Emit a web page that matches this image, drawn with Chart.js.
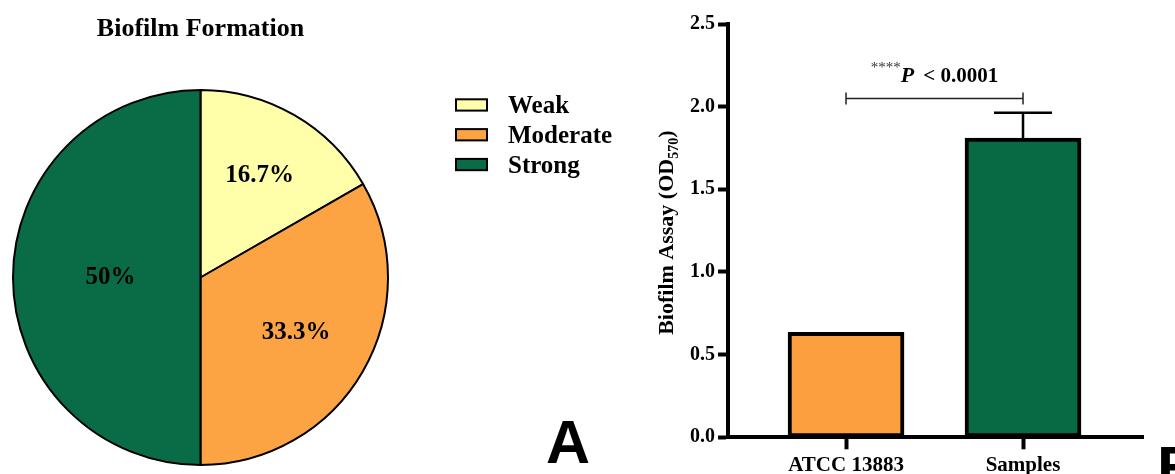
<!DOCTYPE html>
<html>
<head>
<meta charset="utf-8">
<script src="https://cdn.jsdelivr.net/npm/chart.js@4.4.1/dist/chart.umd.min.js"></script>
<style>
    html, body { margin: 0; padding: 0; background: #fff; }
    .wrap { position: relative; width: 1175px; height: 474px; overflow: hidden; }
    #pieChart { position: absolute; left: 0; top: 0; }
    #barChart { position: absolute; left: 640px; top: 0; }
</style>
</head>
<body>
<div class="wrap">
    <canvas id="pieChart" width="640" height="474"></canvas>
    <canvas id="barChart" width="535" height="474"></canvas>
</div>
<script>
// Panel A - pie
const pieTitle = 'Biofilm Formation';
const pieLabels = ['Weak', 'Moderate', 'Strong'];
const pieValues = [16.7, 33.3, 50];
const pieColors = ['#FFFFAA', '#FCA444', '#0A6C47'];

// Panel B - bars
const barCategories = ['ATCC 13883', 'Samples'];
const barValues = [0.635, 1.81];
const barErrors = [0, 0.153];
const barColors = ['#FCA03F', '#076A45'];
const yTicks = [0, 0.5, 1.0, 1.5, 2.0, 2.5];
const yTitle = 'Biofilm Assay (OD';
const yTitleSub = '570';
const sigStars = '****';
const sigP = 'P';
const sigText = '< 0.0001';
const sigLevel = 2.05;
const panelLetters = ['A', 'B'];

const SERIF = '"Liberation Serif", "Times New Roman", serif';
const SANS = '"Liberation Sans", Arial, sans-serif';

document.addEventListener('DOMContentLoaded', () => {

    // vẽ nhãn %, tiêu đề, chú thích và chữ A
    const pieDecor = {
        id: 'pieDecor',
        afterDatasetsDraw(chart, args, opts) {
            const ctx = chart.ctx;
            const arcs = chart.getDatasetMeta(0).data;
            ctx.save();
            ctx.fillStyle = '#000';
            ctx.font = `bold 25px ${SERIF}`;
            ctx.textAlign = 'center';
            ctx.textBaseline = 'middle';
            arcs.forEach((arc, i) => {
                const p = arc.getProps(['x', 'y', 'startAngle', 'endAngle', 'outerRadius'], true);
                const mid = (p.startAngle + p.endAngle) / 2;
                const r = p.outerRadius * opts.radii[i];
                ctx.fillText(pieValues[i] + '%', p.x + Math.cos(mid) * r, p.y + Math.sin(mid) * r);
            });

            ctx.textBaseline = 'alphabetic';
            ctx.font = `bold 26px ${SERIF}`;
            ctx.fillText(pieTitle, (chart.chartArea.left + chart.chartArea.right) / 2, 36);

            // legend
            ctx.textAlign = 'left';
            ctx.font = `bold 25px ${SERIF}`;
            ctx.lineWidth = 2;
            ctx.strokeStyle = '#000';
            pieLabels.forEach((label, i) => {
                const top = 98.3 + i * 29.8;
                ctx.fillStyle = pieColors[i];
                ctx.fillRect(456, top + 1, 31, 11.3);
                ctx.strokeRect(456, top + 1, 31, 11.3);
                ctx.fillStyle = '#000';
                ctx.fillText(label, 508, top + 15);
            });

            ctx.textAlign = 'center';
            ctx.font = `bold 61px ${SANS}`;
            ctx.fillText(panelLetters[0], 568, 462.7);
            ctx.restore();
        }
    };

    new Chart(document.getElementById('pieChart'), {
        type: 'pie',
        data: {
            labels: pieLabels,
            datasets: [{
                data: pieValues,
                backgroundColor: pieColors,
                borderColor: '#000',
                borderWidth: 2
            }]
        },
        options: {
            responsive: false,
            animation: false,
            events: [],
            layout: { padding: { left: 12, top: 89, right: 251, bottom: 8 } },
            plugins: {
                legend: { display: false },
                tooltip: { enabled: false },
                pieDecor: { radii: [0.63, 0.59, 0.48] }
            }
        },
        plugins: [pieDecor]
    });

    // error bar, dấu so sánh, tiêu đề trục y, chữ B
    const barDecor = {
        id: 'barDecor',
        afterDatasetsDraw(chart) {
            const ctx = chart.ctx;
            const xs = chart.scales.x;
            const ys = chart.scales.y;
            ctx.save();

            ctx.strokeStyle = '#000';
            ctx.lineWidth = 2.5;
            barValues.forEach((v, i) => {
                if (!barErrors[i]) return;
                const px = xs.getPixelForValue(i + 1);
                const top = ys.getPixelForValue(v);
                const end = ys.getPixelForValue(v + barErrors[i]);
                ctx.beginPath();
                ctx.moveTo(px, top);
                ctx.lineTo(px, end);
                ctx.moveTo(px - 29, end);
                ctx.lineTo(px + 29, end);
                ctx.stroke();
            });

            const x1 = xs.getPixelForValue(1);
            const x2 = xs.getPixelForValue(2);
            const by = ys.getPixelForValue(sigLevel);
            ctx.strokeStyle = '#222';
            ctx.lineWidth = 1.5;
            ctx.beginPath();
            ctx.moveTo(x1, by);
            ctx.lineTo(x2, by);
            ctx.moveTo(x1, by - 6);
            ctx.lineTo(x1, by + 6);
            ctx.moveTo(x2, by - 6);
            ctx.lineTo(x2, by + 6);
            ctx.stroke();

            ctx.textAlign = 'left';
            ctx.textBaseline = 'alphabetic';
            ctx.font = `15px ${SERIF}`;
            const wS = ctx.measureText(sigStars).width;
            ctx.font = `italic bold 22px ${SERIF}`;
            const wP = ctx.measureText(sigP).width;
            ctx.font = `bold 21px ${SERIF}`;
            const wT = ctx.measureText(sigText).width;
            const gap = 9;
            let tx = (x1 + x2) / 2 - (wS + wP + gap + wT) / 2;
            ctx.fillStyle = '#333';
            ctx.font = `15px ${SERIF}`;
            ctx.fillText(sigStars, tx, by - 26);
            tx += wS;
            ctx.fillStyle = '#000';
            ctx.font = `italic bold 22px ${SERIF}`;
            ctx.fillText(sigP, tx, by - 16.5);
            tx += wP + gap;
            ctx.font = `bold 21px ${SERIF}`;
            ctx.fillText(sigText, tx, by - 16.5);

            // tiêu đề trục y có chỉ số dưới
            ctx.font = `bold 22px ${SERIF}`;
            const w1 = ctx.measureText(yTitle).width;
            const w3 = ctx.measureText(')').width;
            ctx.font = `bold 14px ${SERIF}`;
            const w2 = ctx.measureText(yTitleSub).width;
            ctx.save();
            ctx.translate(33, (chart.chartArea.top + chart.chartArea.bottom) / 2 + 2);
            ctx.rotate(-Math.PI / 2);
            let ty = -(w1 + w2 + w3) / 2;
            ctx.font = `bold 22px ${SERIF}`;
            ctx.fillText(yTitle, ty, 0);
            ty += w1;
            ctx.font = `bold 14px ${SERIF}`;
            ctx.fillText(yTitleSub, ty, 5);
            ty += w2;
            ctx.font = `bold 22px ${SERIF}`;
            ctx.fillText(')', ty, 0);
            ctx.restore();

            ctx.font = `bold 61px ${SANS}`;
            ctx.fillText(panelLetters[1], 517, 489);
            ctx.restore();
        }
    };

    const tickFont = { family: SERIF, size: 20, weight: 'bold' };

    new Chart(document.getElementById('barChart'), {
        type: 'bar',
        data: {
            datasets: [{
                data: barCategories.map((c, i) => ({ x: i + 1, y: barValues[i] })),
                backgroundColor: barColors,
                borderColor: '#000',
                borderWidth: 4,
                borderSkipped: false,
                barThickness: 116
            }]
        },
        options: {
            responsive: false,
            animation: false,
            events: [],
            layout: { padding: { left: 0, top: 24, right: 32, bottom: 0 } },
            plugins: { legend: { display: false }, tooltip: { enabled: false } },
            scales: {
                x: {
                    type: 'linear',
                    min: 0.333,
                    max: 2.678,
                    offset: false,
                    afterBuildTicks: s => { s.ticks = barCategories.map((c, i) => ({ value: i + 1 })); },
                    afterFit: s => { s.height = 36.7; s.paddingLeft = 0; s.paddingRight = 0; },
                    ticks: {
                        callback: v => barCategories[Math.round(v) - 1],
                        font: { family: SERIF, size: 21, weight: 'bold' },
                        color: '#000',
                        padding: 4,
                        maxRotation: 0,
                        autoSkip: false
                    },
                    grid: { display: true, offset: false, drawOnChartArea: false, tickLength: 12, tickWidth: 4, tickColor: '#000' },
                    border: { display: true, width: 4, color: '#000' }
                },
                y: {
                    min: 0,
                    max: 2.5,
                    afterBuildTicks: s => { s.ticks = yTicks.map(v => ({ value: v })); },
                    afterFit: s => { s.width = 88; s.paddingTop = 0; s.paddingBottom = 0; },
                    ticks: {
                        callback: v => v.toFixed(1),
                        font: tickFont,
                        color: '#000',
                        padding: 3
                    },
                    grid: { display: true, drawOnChartArea: false, tickLength: 10, tickWidth: 4, tickColor: '#000' },
                    border: { display: true, width: 4, color: '#000' }
                }
            }
        },
        plugins: [barDecor]
    });
});
</script>
</body>
</html>
